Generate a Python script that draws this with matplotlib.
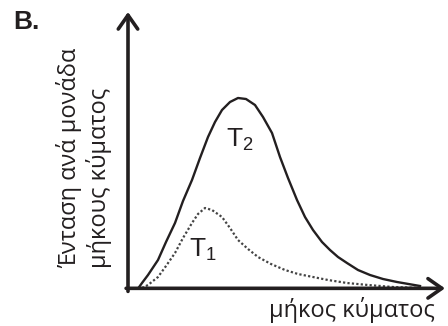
import matplotlib
matplotlib.use("Agg")
import matplotlib.pyplot as plt

plt.rcParams["font.family"] = ["Open Sans", "DejaVu Sans"]
plt.rcParams["mathtext.default"] = "regular"

INK = "#231f20"

# wavelength (arbitrary units) and spectral intensity
t2_wavelength = [9, 14, 20, 30, 38, 47, 55, 64, 72, 80, 87, 94, 102, 110, 118,
                 127, 135, 144, 152, 160, 169, 177, 185, 194, 202, 210, 219, 230,
                 242, 255, 269, 292]
t2_intensity = [0, 7, 15, 30, 48, 67, 89, 110, 132, 153, 168, 180, 188, 192, 191,
                185, 173, 157, 133, 112, 90, 73, 60, 48, 40, 33, 27, 20,
                15, 11, 8, 4]

t1_wavelength = [10, 20, 30, 38, 47, 55, 64, 70, 77, 84, 94, 102, 110, 120, 130,
                 143, 157, 170, 185, 200, 219, 240, 265, 292]
t1_intensity = [0, 5, 13, 24, 37, 52, 67, 76, 82, 80, 73, 62, 50, 41, 33,
                26, 20, 16, 13, 10, 7, 5, 3, 2]

curve_labels = ["T$_2$", "T$_1$"]
ylabel_text = "Ένταση ανά μονάδα\nμήκους κύματος"
xlabel_text = "μήκος κύματος"
panel_text = "B."

fig = plt.figure(figsize=(4.48, 3.26), dpi=100)
ax = fig.add_axes([128 / 448, 36 / 326, 317 / 448, 278 / 326])
ax.set_xlim(0, 317)
ax.set_ylim(0, 278)
ax.axis("off")

ax.plot(t2_wavelength, t2_intensity, color=INK, lw=1.7, solid_joinstyle="round")
ax.plot(t1_wavelength, t1_intensity, color="#444444", lw=1.6, ls=(0, (1, 1)))

# axes with open arrow heads
arrow = dict(arrowstyle="->, head_length=0.5, head_width=0.35", color=INK,
             lw=2.6, shrinkA=0, shrinkB=0, mutation_scale=20)
ax.annotate("", xy=(0, 1.0), xytext=(0, -0.005), xycoords="axes fraction",
            arrowprops=arrow)
ax.annotate("", xy=(1.0, 0.006), xytext=(-0.006, 0.006), xycoords="axes fraction",
            arrowprops=arrow)

ax.text(112, 150, curve_labels[0], fontsize=19, color=INK, ha="center", va="center",
        family="Liberation Sans")
ax.text(75, 40, curve_labels[1], fontsize=19, color=INK, ha="center", va="center",
        family="Liberation Sans")

fig.text(84 / 448, 1 - 268 / 326, ylabel_text, rotation=90, ha="center", va="bottom",
         multialignment="left", fontsize=17, color=INK, linespacing=1.15)
fig.text(352 / 448, 1 - 310 / 326, xlabel_text, ha="center", va="center",
         fontsize=17, color=INK)
fig.text(13 / 448, 1 - 22 / 326, panel_text, ha="left", va="center", fontsize=19,
         fontweight="bold", color=INK, family="Liberation Sans")

fig.savefig("out.png", dpi=100)
